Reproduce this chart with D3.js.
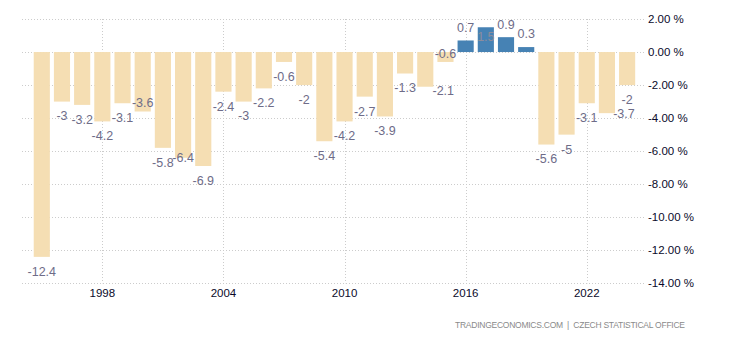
<!DOCTYPE html>
<html><head><meta charset="utf-8">
<script src="https://cdn.jsdelivr.net/npm/d3@7"></script>
<style>body{margin:0;background:#fff;} svg{display:block;font-family:"Liberation Sans",Arial,sans-serif;}</style>
</head><body><svg id="c" width="730" height="340"></svg>
<script>
const years = [1995,1996,1997,1998,1999,2000,2001,2002,2003,2004,2005,2006,2007,2008,2009,2010,2011,2012,2013,2014,2015,2016,2017,2018,2019,2020,2021,2022,2023,2024];
const values = [-12.4,-3,-3.2,-4.2,-3.1,-3.6,-5.8,-6.4,-6.9,-2.4,-3,-2.2,-0.6,-2,-5.4,-4.2,-2.7,-3.9,-1.3,-2.1,-0.6,0.7,1.5,0.9,0.3,-5.6,-5,-3.1,-3.7,-2];
const xTickLabels = [1998,2004,2010,2016,2022];
const yTicks = [2,0,-2,-4,-6,-8,-10,-12,-14];
const source = "TRADINGECONOMICS.COM  |  CZECH STATISTICAL OFFICE";

// label nudges (dx, dy) to mimic the reference's collision-avoided label placement
const labelNudge = {2000:[0,-23], 2002:[0,-15], 2014:[18,-11], 2015:[0,-23], 2017:[0,22], 2023:[17,-14]};

const svg = d3.select("#c");
const plotL = 22, plotR = 645;
const y = d3.scaleLinear().domain([-14,2]).range([283.3,19]);
const x = d3.scaleBand().domain(years).range([31.7,637.2]).paddingInner(0.2).paddingOuter(0.1);

svg.append("g").selectAll("line").data(yTicks).join("line")
  .attr("x1",plotL).attr("x2",plotR)
  .attr("y1",d=>Math.round(y(d))+0.5).attr("y2",d=>Math.round(y(d))+0.5)
  .attr("stroke","#cccccc").attr("stroke-dasharray","1,2");
svg.append("g").selectAll("line").data(xTickLabels).join("line")
  .attr("x1",d=>Math.round(x(d)+x.bandwidth()/2)+0.5).attr("x2",d=>Math.round(x(d)+x.bandwidth()/2)+0.5)
  .attr("y1",y(2)).attr("y2",y(-14))
  .attr("stroke","#cccccc").attr("stroke-dasharray","1,2");

const data = years.map((yr,i)=>({yr, v:values[i]}));
svg.append("g").selectAll("rect").data(data).join("rect")
  .attr("x",d=>x(d.yr)).attr("width",x.bandwidth())
  .attr("y",d=>y(Math.max(0,d.v))).attr("height",d=>Math.abs(y(d.v)-y(0)))
  .attr("fill",d=>d.v>=0?"#4682b4":"#f5deb3");

svg.append("g").selectAll("text").data(data).join("text")
  .attr("x",d=>x(d.yr)+x.bandwidth()/2 + (labelNudge[d.yr]?labelNudge[d.yr][0]:0))
  .attr("y",d=>(d.v>=0? y(d.v)-13 : y(d.v)+14.5) + (labelNudge[d.yr]?labelNudge[d.yr][1]:0))
  .attr("dy","0.35em")
  .attr("text-anchor","middle")
  .attr("font-size",12.5).attr("fill",d=>d.yr===2017?"#8c8c9c":"#6e6c88")
  .text(d=>String(d.v));

const yAxis = d3.axisRight(y).tickValues(yTicks).tickSize(0).tickPadding(0)
  .tickFormat(d=>d3.format(".2f")(d).replace("−","-")+" %");
const ga = svg.append("g").attr("transform",`translate(648,0)`).call(yAxis);
ga.select(".domain").remove();
ga.selectAll("text").attr("font-size",11.5).attr("fill","#0a0a2a").attr("font-family","Liberation Sans, Arial, sans-serif");

const xAxis = d3.axisBottom(x).tickValues(xTickLabels).tickSize(0).tickPadding(0);
const gx = svg.append("g").attr("transform",`translate(0,289)`).call(xAxis);
gx.select(".domain").remove();
gx.selectAll("text").attr("font-size",11.5).attr("fill","#0a0a2a").attr("font-family","Liberation Sans, Arial, sans-serif");

svg.append("text").attr("x",455).attr("y",328)
  .attr("font-size",8.5).attr("fill","#8a8a8a")
  .attr("textLength",230).attr("lengthAdjust","spacing")
  .style("white-space","pre").text(source);
</script></body></html>
